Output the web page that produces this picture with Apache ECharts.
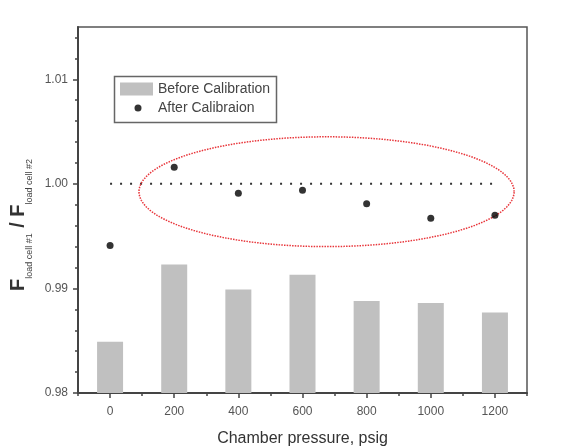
<!DOCTYPE html>
<html>
<head>
<meta charset="utf-8">
<script src="https://cdn.jsdelivr.net/npm/echarts@6/dist/echarts.min.js"></script>
<style>html,body{margin:0;padding:0;background:#fff}#c{width:584px;height:448px}</style>
</head>
<body>
<div id="c"></div>
<script>
var pressures = [0, 200, 400, 600, 800, 1000, 1200];
var beforeCal = [0.9849, 0.9923, 0.9899, 0.9913, 0.9888, 0.9886, 0.9877];
var afterCal = [0.9941, 1.0016, 0.9991, 0.9994, 0.9981, 0.9967, 0.9970];
var xTicks = [0, 200, 400, 600, 800, 1000, 1200];
var yTicks = [0.98, 0.99, 1.00, 1.01];
var refLine = [[0, 1.0], [1200, 1.0]];
// annotation ellipse: centre and semi-axes in data units
var ellCx = 675, ellCy = 0.99925, ellRx = 585, ellRy = 0.00525;

var ellipse = [];
for (var i = 0; i <= 200; i++) {
  var t = i / 200 * Math.PI * 2;
  ellipse.push([ellCx + ellRx * Math.cos(t), ellCy + ellRy * Math.sin(t)]);
}
var font = '"Liberation Sans", Arial, sans-serif';
var dotIcon = 'path://M0,0L0,0M33,13L33,13M14.5,6.5a3.5,3.5 0 1,0 7,0a3.5,3.5 0 1,0 -7,0Z';
var chart = echarts.init(document.getElementById('c'));
chart.setOption({
  animation: false,
  grid: {left: 78, top: 27, right: 57, bottom: 55, show: true, borderColor: '#555', borderWidth: 1.5,
    backgroundColor: 'transparent', outerBoundsMode: 'none', containLabel: false},
  xAxis: [{
    type: 'value', min: -100, max: 1300, interval: 100,
    axisLine: {show: true, onZero: false, lineStyle: {color: '#444', width: 2}},
    axisTick: {show: true, length: 5, lineStyle: {color: '#444', width: 1.5}, customValues: xTicks},
    axisLabel: {customValues: xTicks, color: '#555', fontSize: 12, fontFamily: font, margin: 13,
      formatter: function (v) { return String(v); }},
    splitLine: {show: false},
    name: 'Chamber pressure, psig', nameLocation: 'middle', nameGap: 38,
    nameTextStyle: {fontSize: 16, color: '#333', fontFamily: font}
  }, {
    type: 'value', min: -100, max: 1300, interval: 100, position: 'bottom',
    axisLine: {show: false, onZero: false},
    axisTick: {show: true, length: 3, lineStyle: {color: '#444', width: 1.5}},
    axisLabel: {show: false}, splitLine: {show: false}
  }],
  yAxis: {
    type: 'value', min: 0.98, max: 1.015, interval: 0.01,
    axisLine: {show: true, onZero: false, lineStyle: {color: '#444', width: 2}},
    axisTick: {show: true, length: 5, lineStyle: {color: '#444', width: 1.5}, customValues: yTicks},
    minorTick: {show: true, splitNumber: 5, length: 3, lineStyle: {color: '#444', width: 1.5}},
    axisLabel: {customValues: yTicks, color: '#555', fontSize: 12, fontFamily: font, margin: 10,
      formatter: function (v) { return v.toFixed(2); }},
    splitLine: {show: false},
    name: '{F|F}{s|load cell #1}{F| / F}{s|load cell #2}',
    nameLocation: 'middle', nameGap: 43,
    nameTextStyle: {
      fontFamily: font, color: '#333', padding: [0, 30, 0, 0],
      rich: {
        F: {fontSize: 20, fontWeight: 'bold', color: '#333', fontFamily: font, verticalAlign: 'middle', lineHeight: 30},
        s: {fontSize: 9, color: '#444', fontFamily: font, verticalAlign: 'bottom', lineHeight: 9}
      }
    }
  },
  legend: {
    left: 120, top: 82, orient: 'vertical', itemWidth: 33, itemHeight: 13, itemGap: 5, padding: 0,
    data: [{name: 'Before Calibration', icon: 'rect'}, {name: 'After Calibraion', icon: dotIcon}],
    textStyle: {fontSize: 14, color: '#444', fontFamily: font}
  },
  graphic: [{
    type: 'rect', left: 112, top: 74, shape: {width: 162, height: 46},
    style: {fill: 'none', stroke: '#666', lineWidth: 1.5}, z: 10
  }],
  series: [{
    name: 'Before Calibration', type: 'bar', xAxisIndex: 0,
    data: pressures.map(function (p, i) { return [p, beforeCal[i]]; }),
    barWidth: 26, itemStyle: {color: '#c0c0c0'}
  }, {
    name: 'ref', type: 'line', data: refLine, symbol: 'none', silent: true,
    lineStyle: {color: '#333', width: 2, type: [2, 8]}
  }, {
    name: 'ellipse', type: 'line', data: ellipse, symbol: 'none', silent: true, smooth: false,
    lineStyle: {color: '#e8353a', width: 1.5, type: [1.5, 1.2]}
  }, {
    name: 'After Calibraion', type: 'scatter',
    data: pressures.map(function (p, i) { return [p, afterCal[i]]; }),
    symbolSize: 7, itemStyle: {color: '#000'}, z: 5
  }]
});
</script>
</body>
</html>
